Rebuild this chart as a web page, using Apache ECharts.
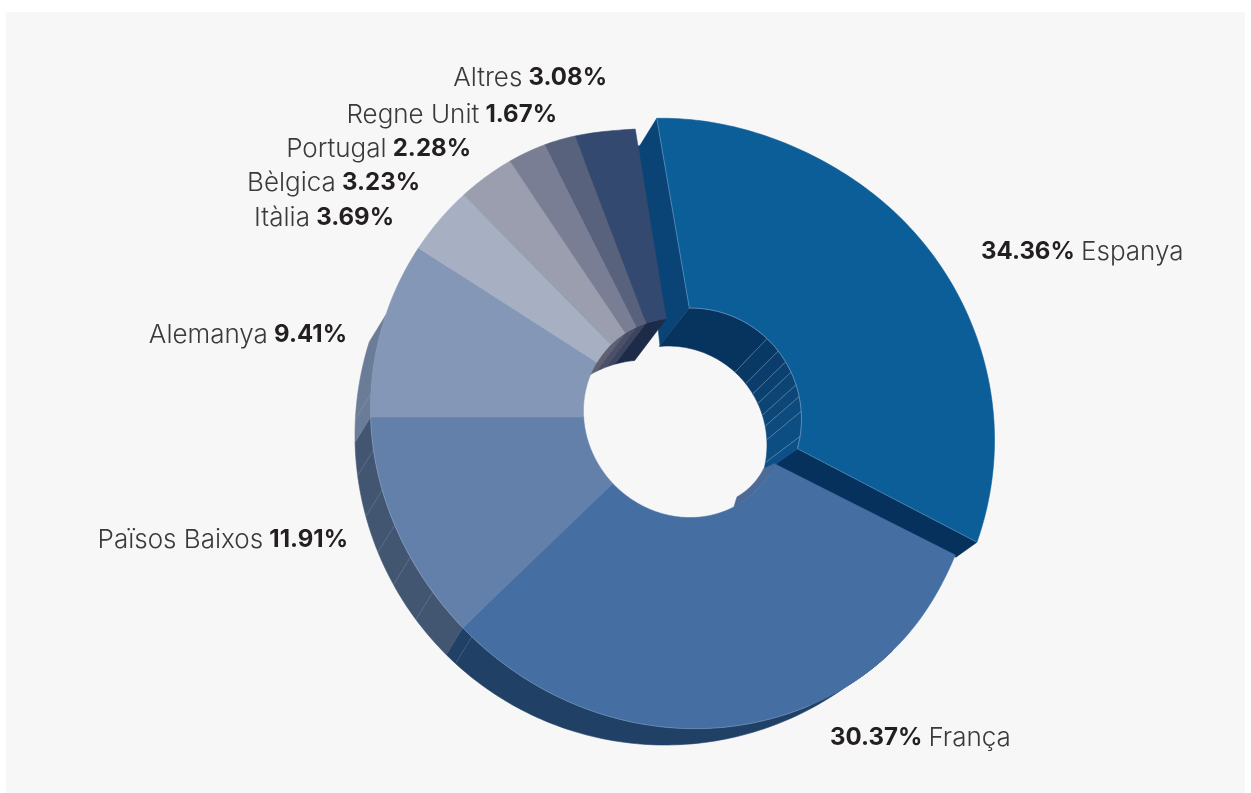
<!DOCTYPE html>
<html lang="ca">
<head>
<meta charset="utf-8">
<title>Distribució per països</title>
<style>
html,body{margin:0;padding:0;background:#fff;width:1251px;height:793px;overflow:hidden}
#panel{position:absolute;left:6px;top:12px;width:1239px;height:781px;background:#f7f7f7}
#chart{position:absolute;left:0;top:0;width:1251px;height:793px}
</style>
<script src="https://cdn.jsdelivr.net/npm/echarts@6/dist/echarts.min.js"></script>
</head>
<body>
<div id="panel"></div>
<div id="chart"></div>
<script>
// ---- data ----
var countries = ['Espanya','França','Països Baixos','Alemanya','Itàlia','Bèlgica','Portugal','Regne Unit','Altres'];
var shares    = [34.36,30.37,11.91,9.41,3.69,3.23,2.28,1.67,3.08];
var valueFirst = [true,true,false,false,false,false,false,false,false];

// ---- colours ----
var faceColors = ['#0c5e99','#456fa3','#6380ab','#8497b6','#a7b0c3','#9b9eae','#797e94','#58627d','#33496f'];
var sideColors = [null,'#214066','#425672','#6b7c99',null,null,null,null,null];
var holeColors = [null,'#4d6b96',null,'#75788a','#6e7080','#5e6172','#4b5068','#3c4560','#1d2b49'];
var espanyaHoleColors = ['#07335f','#083864','#0a3d6b','#0b4170','#0c4474','#0c4778','#0d4a7d','#0c4d82','#0d5088'];

// ---- projection of the tilted 3D ring ----
var apex = [682,417];
var startAngle = 96.9;
var perspectiveShift = [0,0,-1,0.2,0.7,1.7,2.7,2.8,2.3];
var outerRim = {c:[676,425],a:313,b:294};
var innerRim = {c:[683,418],a:103,b:96};
var sideRim  = {c:[665,435],r:310};
var sideDir  = [-16,26];
var sideLines = [-133.7,-144.9,-152.7,-159.4,-166.3,-173.9,-184.2];
var holeRim  = {c:[645,470],r:110};
var holeDir  = [-25,33];
var espCenterIn = [690.5,419], espRIn = 111;
var espCenterOut = [668,440];
var espHoleRim = {c:[668,445],r:99};
var espFacets = [90.6,46.4,37.8,31,25,18,11.7,4,-9,-15.5];

function rad(d){return d*Math.PI/180;}
function rayEllipse(e,o,th){
  var d=[Math.cos(rad(th)),-Math.sin(rad(th))], k=Math.SQRT1_2;
  var px=o[0]-e.c[0], py=o[1]-e.c[1];
  var pu=(px+py)*k, pv=(-px+py)*k, du=(d[0]+d[1])*k, dv=(-d[0]+d[1])*k;
  var A=du*du/(e.a*e.a)+dv*dv/(e.b*e.b), B=2*(pu*du/(e.a*e.a)+pv*dv/(e.b*e.b)), C=pu*pu/(e.a*e.a)+pv*pv/(e.b*e.b)-1;
  var t=(-B+Math.sqrt(B*B-4*A*C))/(2*A);
  return [o[0]+t*d[0],o[1]+t*d[1]];
}
// outer rim: ellipse with the small flattenings seen on the ring
function outerPoint(th){
  var q=rayEllipse(outerRim,apex,th);
  var n=((th%360)+360)%360;
  var pull=7*Math.exp(-Math.pow((n-98)/14,2))-2*Math.exp(-Math.pow((n-185)/25,2))+2.5*Math.exp(-Math.pow((n-333)/14,2));
  var dx=q[0]-outerRim.c[0], dy=q[1]-outerRim.c[1], l=Math.hypot(dx,dy);
  return [q[0]-pull*dx/l,q[1]-pull*dy/l];
}
function norm(v){var l=Math.hypot(v[0],v[1]);return [v[0]/l,v[1]/l];}
function rayCircle(p,dir,rim,exitRoot){
  var d=norm(dir), fx=p[0]-rim.c[0], fy=p[1]-rim.c[1];
  var b=fx*d[0]+fy*d[1], c=fx*fx+fy*fy-rim.r*rim.r, disc=b*b-c;
  var inside=c<0;
  if(disc<0) return p;
  var t;
  if(exitRoot){ if(!inside) return p; t=-b+Math.sqrt(disc);}
  else { if(inside) return p; t=-b-Math.sqrt(disc); if(t<0) return p;}
  return [p[0]+t*d[0],p[1]+t*d[1]];
}
// slice edge angles, running clockwise, derived from the shares
var edges=[startAngle];
(function(){var run=startAngle;for(var i=0;i<shares.length;i++){run-=3.6*shares[i];edges.push(run+perspectiveShift[i]);}})();
function arcAngles(a,b,step){var out=[],n=Math.max(1,Math.ceil(Math.abs(b-a)/step));for(var i=0;i<=n;i++)out.push(a+(b-a)*i/n);return out;}

var hair='rgba(190,210,230,0.55)';
var hairSoft='rgba(190,205,225,0.4)';
function poly(points,fill,stroke,w){return {type:'polygon',silent:true,shape:{points:points},style:{fill:fill,stroke:stroke||fill,lineWidth:w==null?0.6:w}};}
function line(points,stroke,w){return {type:'polyline',silent:true,shape:{points:points},style:{fill:null,stroke:stroke,lineWidth:w||0.6}};}

function espanyaOuter(phi){
  var r=323-4*Math.exp(-Math.pow((phi-65)/24,2))+3.5*Math.exp(-Math.pow(phi/30,2));
  return [espCenterOut[0]+r*Math.cos(rad(phi)),espCenterOut[1]-r*Math.sin(rad(phi))];
}
function espanyaInner(phi){return [espCenterIn[0]+espRIn*Math.cos(rad(phi)),espCenterIn[1]-espRIn*Math.sin(rad(phi))];}
function espDir(phi){
  if(phi>30){var t=(90-phi)/60;return [-29-4*t,37-5*t];}
  var u=(30-phi)/46;return [-33+2*u,32-10*u];
}

function renderWalls(params){
  var i=params.dataIndex, kids=[];
  if(i===0){
    var frontIn=espanyaInner(espFacets[0]), frontOut=espanyaOuter(92);
    kids.push(poly([frontOut,[639,147],[660,346],frontIn],'#0a4476'));
    kids.push(line([frontIn,[660,346]],hair));
    var endIn=espanyaInner(-15.5), endOut=espanyaOuter(-18.3);
    kids.push(poly([endIn,endOut,[endOut[0]-21,endOut[1]+15],[764,472]],'#06315d'));
    for(var f=0;f<espFacets.length-1;f++){
      var ang=arcAngles(espFacets[f],espFacets[f+1],1.5), front=[],back=[];
      ang.forEach(function(p){var q=espanyaInner(p);front.push(q);back.push(rayCircle(q,espDir(p),espHoleRim,false));});
      kids.push(poly(front.concat(back.reverse()),espanyaHoleColors[f]));
      if(f>0) kids.push(line([front[0],back[back.length-1]],hair));
    }
    kids.push(line(arcAngles(espFacets[0],espFacets[espFacets.length-1],2).map(espanyaInner),hair));
    return {type:'group',children:kids};
  }
  var a=edges[i],b=edges[i+1];
  if(sideColors[i]){
    var sa=a, sb=b;
    if(i===1){sa=Math.min(a,-48);}
    if(i===3){sb=-199;}
    var ang2=arcAngles(sa,sb,1), fr=[],bk=[];
    ang2.forEach(function(p){var q=outerPoint(p);fr.push(q);bk.push(rayCircle(q,sideDir,sideRim,true));});
    kids.push(poly(fr.concat(bk.slice().reverse()),sideColors[i]));
    sideLines.forEach(function(p){
      if(p<=ang2[0]&&p>=ang2[ang2.length-1]){var q=outerPoint(p);kids.push(line([q,rayCircle(q,sideDir,sideRim,true)],hairSoft,0.5));}
    });
  }
  if(holeColors[i]){
    var ha=a,hb=b;
    if(i===1){hb=-60;}
    if(i===3){ha=-205;}
    var hang=arcAngles(ha,hb,1), hf=[],hk=[];
    hang.forEach(function(p){
      var q=rayEllipse(innerRim,apex,p);hf.push(q);
      if(i===1){hk.push([703+68*Math.cos(rad(p)),438-68*Math.sin(rad(p))]);}
      else hk.push(rayCircle(q,holeDir,holeRim,false));
    });
    kids.push(poly(hf.concat(hk.slice().reverse()),holeColors[i]));
  }
  return {type:'group',children:kids};
}
function renderFaces(params){
  var i=params.dataIndex, kids=[];
  if(i===0){
    var outer=arcAngles(92,-18.3,1).map(espanyaOuter);
    var inner=arcAngles(90.6,-15.5,1).map(espanyaInner);
    kids.push(poly(outer.concat(inner.slice().reverse()),faceColors[0]));
    kids.push(line([outer[0],inner[0]],hair));
    kids.push(line(inner,hair));
    kids.push(line([inner[inner.length-1],outer[outer.length-1]],hair,0.5));
    return {type:'group',children:kids};
  }
  var a=edges[i],b=edges[i+1];
  var angs=arcAngles(a,b,0.8);
  var o=angs.map(outerPoint);
  var n=angs.map(function(p){return rayEllipse(innerRim,apex,p);});
  kids.push(poly(o.concat(n.slice().reverse()),faceColors[i]));
  if(i===1||i===2) {
    var rimAngs=arcAngles(i===1?Math.min(a,-66):a,b,1).map(outerPoint);
    kids.push(line(rimAngs,'rgba(215,228,240,0.4)',0.5));
  }
  return {type:'group',children:kids};
}

var labelSpots=[
  {x:981,y:252,align:'left'},{x:830,y:738,align:'left'},{x:348,y:540,align:'right'},
  {x:347,y:335,align:'right'},{x:394,y:218,align:'right'},{x:420,y:183,align:'right'},
  {x:471,y:149,align:'right'},{x:557,y:115,align:'right'},{x:607,y:78,align:'right'}
];
function labelText(i){
  var v='{v|'+shares[i].toFixed(2)+'%}', n='{n|'+countries[i]+'}';
  return valueFirst[i]? v+'{s| }'+n : n+'{s| }'+v;
}
var FONT='Inter';
var richText={
  n:{fontFamily:FONT,fontWeight:300,fontSize:26,color:'#3a3a3c'},
  v:{fontFamily:FONT,fontWeight:700,fontSize:24,color:'#231f20'},
  s:{fontFamily:FONT,fontSize:22,color:'#231f20'}
};
function layoutFor(idx){return function(p){var s=labelSpots[idx==null?p.dataIndex:idx];return {x:s.x,y:s.y,align:s.align,verticalAlign:'middle'};};}

var rows=countries.map(function(name,i){return {name:name,value:shares[i]};});
var rest=shares.slice(1).reduce(function(a,b){return a+b;},0);

var chart=echarts.init(document.getElementById('chart'),null,{renderer:'canvas'});
chart.setOption({
  animation:false,
  tooltip:{show:false},
  series:[
    {type:'pie',name:'shares',z:1,silent:true,center:apex,radius:[105,275],startAngle:startAngle,clockwise:true,
      avoidLabelOverlap:false,labelLine:{show:false},
      label:{show:true,position:'outside',rich:richText,formatter:function(p){return labelText(p.dataIndex);}},
      labelLayout:layoutFor(null),
      data:rows.map(function(r,i){
        return i===0?{name:r.name,value:r.value,itemStyle:{color:'transparent'},label:{show:false}}
                    :{name:r.name,value:r.value,itemStyle:{color:faceColors[i]}};
      })},
    {type:'pie',name:'Espanya',z:1,silent:true,center:[705,401.5],radius:[125,265],startAngle:98,clockwise:true,
      avoidLabelOverlap:false,labelLine:{show:false},
      label:{show:true,position:'outside',rich:richText,formatter:function(){return labelText(0);}},
      labelLayout:layoutFor(0),
      data:[{name:countries[0],value:shares[0],itemStyle:{color:faceColors[0]}},
            {name:'resta',value:rest,itemStyle:{color:'transparent'},label:{show:false}}]},
    {type:'custom',name:'walls',coordinateSystem:'none',z:2,silent:true,renderItem:renderWalls,data:shares.map(function(v){return [v];})},
    {type:'custom',name:'faces',coordinateSystem:'none',z:3,silent:true,renderItem:renderFaces,data:shares.map(function(v){return [v];})}
  ]
});
</script>
</body>
</html>
